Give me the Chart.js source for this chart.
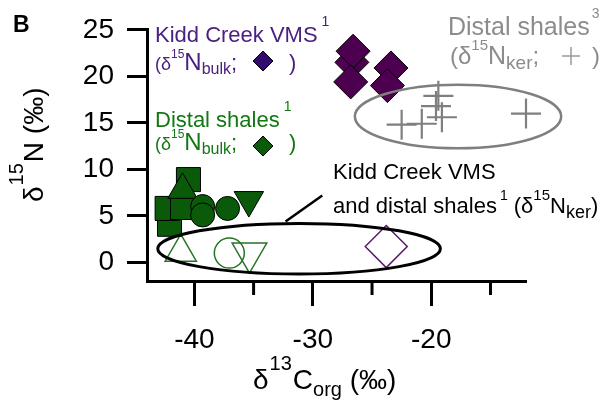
<!DOCTYPE html>
<html>
<head>
<meta charset="utf-8">
<script src="https://cdn.jsdelivr.net/npm/chart.js@4.4.0/dist/chart.umd.min.js"></script>
<style>
  html, body { margin: 0; padding: 0; background: #fff; }
  #wrap { width: 603px; height: 410px; }
</style>
</head>
<body>
<div id="wrap"><canvas id="c" width="603" height="410"></canvas></div>
<script>
// δ13C_org (x, ‰) and δ15N (y, ‰) values
// Kidd Creek VMS, bulk nitrogen
const kiddBulkX = [-26.7, -26.6, -26.8, -23.4, -23.7];
const kiddBulkY = [21.5, 22.7, 19.4, 20.9, 19.0];
// Kidd Creek VMS, kerogen nitrogen
const kiddKerX = [-23.8];
const kiddKerY = [1.7];
// Distal shales (ref. 1), bulk nitrogen, one array pair per sample group
const shaleSqX = [-40.5, -42.1, -42.3, -41.0];
const shaleSqY = [8.9, 4.1, 5.8, 5.9];
const shaleTriX = [-41.0];
const shaleTriY = [7.8];
const shaleCircX = [-39.3, -39.3, -37.2];
const shaleCircY = [6.0, 5.1, 5.8];
const shaleDownX = [-35.4];
const shaleDownY = [6.7];
// Distal shales (ref. 1), kerogen nitrogen
const shaleKerTriX = [-41.15];
const shaleKerTriY = [1.1];
const shaleKerCircX = [-37.05];
const shaleKerCircY = [1.0];
const shaleKerDownX = [-35.35];
const shaleKerDownY = [1.0];
// Distal shales (ref. 3), kerogen nitrogen
const distalKerX = [-22.5, -20.8, -19.1, -19.6, -19.4, -12.0];
const distalKerY = [14.8, 14.9, 15.6, 16.8, 17.9, 16.0];
// Axis ticks
const xTicks = [-40, -30, -20];
const xMinorTicks = [-35, -25, -15];
const yTicks = [0, 5, 10, 15, 20, 25];

const FONT = '"Liberation Sans", Arial, Helvetica, sans-serif';
const PURPLE_FILL = '#4e0050';
const PURPLE_TEXT = '#4a2181';
const PURPLE_KEY = '#330a6e';
const GREEN_FILL = '#0a5a0a';
const GREEN_LINE = '#267326';
const GREEN_TEXT = '#137713';
const GRAY = '#7f7f7f';
const GRAY_TEXT = '#8c8c8c';

const pts = (xs, ys) => xs.map((x, i) => ({ x, y: ys[i] }));

function filled(label, xs, ys, style, radius, fill, rotation) {
  return {
    label, data: pts(xs, ys), pointStyle: style, pointRadius: radius,
    pointRotation: rotation || 0, backgroundColor: fill, borderColor: '#000',
    borderWidth: 1, showLine: false, clip: false
  };
}
function hollow(label, xs, ys, style, radius, stroke, rotation) {
  return {
    label, data: pts(xs, ys), pointStyle: style, pointRadius: radius,
    pointRotation: rotation || 0, backgroundColor: 'rgba(0,0,0,0)', borderColor: stroke,
    borderWidth: 1.5, showLine: false, clip: false
  };
}

// listed bottom-most first
const datasets = [
  hollow('Distal shales ker (triangle)', shaleKerTriX, shaleKerTriY, 'triangle', 18, GREEN_LINE),
  hollow('Distal shales ker (circle)', shaleKerCircX, shaleKerCircY, 'circle', 15, GREEN_LINE),
  hollow('Distal shales ker (inverted triangle)', shaleKerDownX, shaleKerDownY, 'triangle', 20, GREEN_LINE, 180),
  hollow('Kidd Creek VMS ker', kiddKerX, kiddKerY, 'rectRot', 21, '#5a1a6a'),
  filled('Distal shales bulk (square)', shaleSqX, shaleSqY, 'rect', 17, GREEN_FILL),
  filled('Distal shales bulk (triangle)', shaleTriX, shaleTriY, 'triangle', 17, GREEN_FILL),
  filled('Distal shales bulk (circle)', shaleCircX, shaleCircY, 'circle', 12, GREEN_FILL),
  filled('Distal shales bulk (inverted triangle)', shaleDownX, shaleDownY, 'triangle', 17, GREEN_FILL, 180),
  filled('Kidd Creek VMS bulk', kiddBulkX, kiddBulkY, 'rectRot', 17, PURPLE_FILL),
  {
    label: 'Distal shales ker (ref. 3)', data: pts(distalKerX, distalKerY), pointStyle: 'cross',
    pointRadius: 15, borderColor: GRAY, borderWidth: 2.2, showLine: false, clip: false
  }
];
datasets.forEach((d, i) => { d.order = datasets.length - i; });

// Outline ellipses and leader line, in data units
const ellipses = [
  { cx: -17.74, cy: 15.68, rx: 8.71, ry: 3.42, color: GRAY, width: 2.5 },
  { cx: -31.16, cy: 1.47, rx: 11.93, ry: 2.72, color: '#000', width: 3 }
];
const leader = { x1: -29.2, y1: 7.2, x2: -32.3, y2: 4.4 };

function rich(ctx, x, y, parts, color) {
  let cx = x;
  ctx.textBaseline = 'alphabetic';
  ctx.textAlign = 'left';
  for (const p of parts) {
    ctx.font = (p.b ? 'bold ' : '') + p.s + 'px ' + FONT;
    ctx.fillStyle = p.c || color;
    cx += p.dx || 0;
    ctx.fillText(p.t, cx, y + (p.dy || 0));
    cx += ctx.measureText(p.t).width;
  }
  return cx;
}

const decor = {
  id: 'decor',
  afterDatasetsDraw(chart) {
    const { ctx, scales: { x, y } } = chart;
    ctx.save();
    for (const e of ellipses) {
      const px = x.getPixelForValue(e.cx), py = y.getPixelForValue(e.cy);
      const rx = Math.abs(x.getPixelForValue(e.cx + e.rx) - px);
      const ry = Math.abs(y.getPixelForValue(e.cy + e.ry) - py);
      ctx.beginPath();
      ctx.ellipse(px, py, rx, ry, 0, 0, Math.PI * 2);
      ctx.strokeStyle = e.color;
      ctx.lineWidth = e.width;
      ctx.stroke();
    }
    ctx.beginPath();
    ctx.moveTo(x.getPixelForValue(leader.x1), y.getPixelForValue(leader.y1));
    ctx.lineTo(x.getPixelForValue(leader.x2), y.getPixelForValue(leader.y2));
    ctx.strokeStyle = '#000';
    ctx.lineWidth = 2.5;
    ctx.stroke();
    ctx.restore();
  },
  afterDraw(chart) {
    const { ctx, scales: { x, y } } = chart;
    ctx.save();
    // minor ticks on the x axis
    ctx.strokeStyle = '#000';
    ctx.lineWidth = 3;
    for (const v of xMinorTicks) {
      const px = x.getPixelForValue(v);
      ctx.beginPath();
      ctx.moveTo(px, x.top);
      ctx.lineTo(px, x.top + 14);
      ctx.stroke();
    }

    // panel letter
    rich(ctx, 13, 32, [{ t: 'B', s: 23, b: true }], '#000');

    // axis titles
    rich(ctx, 253, 389, [
      { t: 'δ', s: 28 }, { t: '13', s: 20, dy: -19, dx: 1 }, { t: 'C', s: 28, dx: 1 },
      { t: 'org', s: 20, dy: 7 }, { t: ' (‰)', s: 28 }
    ], '#000');
    ctx.save();
    ctx.translate(43, 202);
    ctx.rotate(-Math.PI / 2);
    rich(ctx, 0, 0, [
      { t: 'δ', s: 28 }, { t: '15', s: 20, dy: -20, dx: 1 }, { t: 'N', s: 28, dx: 1 }, { t: ' (‰)', s: 28 }
    ], '#000');
    ctx.restore();

    // key: Kidd Creek VMS bulk
    rich(ctx, 155, 42, [{ t: 'Kidd Creek VMS', s: 22 }, { t: '1', s: 14, dy: -16, dx: 4 }], PURPLE_TEXT);
    rich(ctx, 155, 70, [
      { t: '(δ', s: 18 }, { t: '15', s: 12, dy: -12 }, { t: 'N', s: 24 },
      { t: 'bulk', s: 16, dy: 4 }, { t: ';', s: 22 }
    ], PURPLE_TEXT);
    rich(ctx, 289, 70, [{ t: ')', s: 22 }], PURPLE_TEXT);
    ctx.fillStyle = PURPLE_KEY; ctx.strokeStyle = '#000'; ctx.lineWidth = 1;
    Chart.helpers.drawPoint(ctx, { pointStyle: 'rectRot', radius: 10, rotation: 0, borderWidth: 1 }, 263, 61);

    // key: distal shales bulk
    rich(ctx, 155, 127, [{ t: 'Distal shales', s: 22 }, { t: '1', s: 14, dy: -16, dx: 4 }], GREEN_TEXT);
    rich(ctx, 155, 150, [
      { t: '(δ', s: 18 }, { t: '15', s: 12, dy: -12 }, { t: 'N', s: 24 },
      { t: 'bulk', s: 16, dy: 4 }, { t: ';', s: 22 }
    ], GREEN_TEXT);
    rich(ctx, 289, 150, [{ t: ')', s: 22 }], GREEN_TEXT);
    ctx.fillStyle = GREEN_FILL; ctx.strokeStyle = '#000'; ctx.lineWidth = 1;
    Chart.helpers.drawPoint(ctx, { pointStyle: 'rectRot', radius: 10, rotation: 0, borderWidth: 1 }, 263, 146);

    // key: distal shales kerogen (ref. 3)
    rich(ctx, 448, 35, [{ t: 'Distal shales', s: 25 }, { t: '3', s: 14, dy: -17, dx: 2 }], GRAY_TEXT);
    rich(ctx, 450, 64, [
      { t: '(δ', s: 24 }, { t: '15', s: 15, dy: -14 }, { t: 'N', s: 25 },
      { t: 'ker', s: 19, dy: 5 }, { t: ';', s: 24 }
    ], GRAY_TEXT);
    rich(ctx, 592, 64, [{ t: ')', s: 24 }], GRAY_TEXT);
    ctx.strokeStyle = '#9a9a9a'; ctx.lineWidth = 1.5;
    Chart.helpers.drawPoint(ctx, { pointStyle: 'cross', radius: 9, rotation: 0, borderWidth: 1.5 }, 571, 56);

    // label for the kerogen ellipse
    rich(ctx, 333, 179, [{ t: 'Kidd Creek VMS', s: 22 }], '#000');
    rich(ctx, 333, 213, [
      { t: 'and distal shales', s: 22 }, { t: '1', s: 14, dy: -13, dx: 3 },
      { t: ' (δ', s: 22 }, { t: '15', s: 15, dy: -13 }, { t: 'N', s: 22 },
      { t: 'ker', s: 18, dy: 5 }, { t: ')', s: 22 }
    ], '#000');
    ctx.restore();
  }
};

new Chart(document.getElementById('c'), {
  type: 'scatter',
  data: { datasets },
  options: {
    responsive: false,
    animation: false,
    events: [],
    layout: { padding: { left: 0, top: 24, right: 77, bottom: 0 } },
    plugins: { legend: { display: false }, tooltip: { enabled: false } },
    scales: {
      x: {
        type: 'linear', min: -44, max: -12, position: 'bottom',
        afterBuildTicks: s => { s.ticks = xTicks.map(v => ({ value: v })); },
        afterFit: s => { s.height = 129; },
        grid: { drawOnChartArea: false, drawTicks: true, tickLength: 25, tickWidth: 3, tickColor: '#000' },
        border: { display: true, width: 3, color: '#000' },
        ticks: { font: { family: FONT, size: 28 }, color: '#000', padding: 17, maxRotation: 0, callback: v => String(v) }
      },
      y: {
        type: 'linear', min: -2, max: 25, position: 'left',
        afterBuildTicks: s => { s.ticks = yTicks.map(v => ({ value: v })); },
        afterFit: s => { s.width = 147; },
        grid: { drawOnChartArea: false, drawTicks: true, tickLength: 20, tickWidth: 3, tickColor: '#000' },
        border: { display: true, width: 3, color: '#000' },
        ticks: { font: { family: FONT, size: 28 }, color: '#000', padding: 13, callback: v => String(v) }
      }
    }
  },
  plugins: [decor]
});
</script>
</body>
</html>
